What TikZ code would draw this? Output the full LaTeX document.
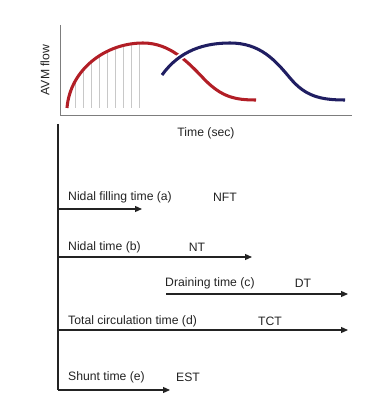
\documentclass[tikz,border=0pt]{standalone}
\usepackage{fontspec}
\setmainfont{Liberation Sans}
\usetikzlibrary{
  arrows.meta,
  positioning,
}
\definecolor{flowred}{RGB}{178,30,38}
\definecolor{flowblue}{RGB}{32,30,98}
\definecolor{axisgray}{RGB}{125,125,125}
\definecolor{fillgray}{RGB}{200,200,200}
\definecolor{textcol}{RGB}{35,35,35}
\tikzset{
  axisline/.style={line width=0.7pt, axisgray},
  redcurve/.style={line width=2.6pt, flowred},
  bluecurve/.style={line width=2.6pt, flowblue},
  fillline/.style={line width=0.5pt, fillgray},
  timearrow/.style={-{Triangle[length=0.21cm, width=0.18cm]}, line width=1pt, textcol},
  baseline/.style={line width=1pt, textcol},
  timelabel/.style={anchor=west, inner sep=0pt, text=textcol, font=\fontsize{10.4}{12}\selectfont},
  abbrlabel/.style={inner sep=0pt, text=textcol, font=\fontsize{10.4}{12}\selectfont},
}

\begin{document}
\begin{tikzpicture}[x=0.03cm, y=-0.03cm]

  \useasboundingbox (0,0) rectangle (367,403);

  % ── Flow plot axes ──
  \coordinate (ytop) at (60,25);
  \coordinate (orig) at (60,115);
  \coordinate (xend) at (352,115);
  \draw[axisline] (ytop) -- (orig) -- (xend);
  \node[abbrlabel, rotate=90] (ylab) at (45,70) {AVM flow};
  \node[abbrlabel] (xlab) at (206,133) {Time (sec)};

  % ── Filling lines under the red curve ──
  \begin{scope}
    \clip (67,108) .. controls (70,70) and (105,43) .. (143,43) -- (143,108) -- cycle;
    \foreach \xx in {75,83,...,139}
      \draw[fillline] (\xx,108) -- (\xx,30);
  \end{scope}

  % ── Curves ──
  \draw[redcurve] (67,108) .. controls (70,70) and (105,43) .. (143,43)
    .. controls (170,43) and (188,62) .. (205,80)
    .. controls (222,97) and (235,100) .. (256,100);
  \draw[line width=5.5pt, white] (162,75) .. controls (180,50) and (205,43) .. (230,43);
  \draw[bluecurve] (162,75) .. controls (180,50) and (205,43) .. (230,43)
    .. controls (260,43) and (275,60) .. (290,78)
    .. controls (305,96) and (320,100) .. (345,100);

  % ── Time arrows ──
  \coordinate (top) at (58,124);
  \coordinate (bot) at (58,390);
  \draw[baseline] (top) -- (bot);

  \coordinate (nft0) at (58,209);  \coordinate (nft1) at (142,209);
  \coordinate (nt0) at (58,257);   \coordinate (nt1) at (252,257);
  \coordinate (dt0) at (166,294);  \coordinate (dt1) at (348,294);
  \coordinate (tct0) at (58,330);  \coordinate (tct1) at (348,330);
  \coordinate (est0) at (58,390);  \coordinate (est1) at (170,390);

  \draw[timearrow] (nft0) -- (nft1);
  \draw[timearrow] (nt0) -- (nt1);
  \draw[timearrow] (dt0) -- (dt1);
  \draw[timearrow] (tct0) -- (tct1);
  \draw[timearrow] (est0) -- (est1);

  % ── Labels ──
  \node[timelabel] (nftlab) at (68,197) {Nidal filling time (a)};
  \node[abbrlabel] (nft) at (225,197) {NFT};
  \node[timelabel] (ntlab) at (68,247) {Nidal time (b)};
  \node[abbrlabel] (nt) at (197,247) {NT};
  \node[timelabel] (dtlab) at (165,283) {Draining time (c)};
  \node[abbrlabel] (dt) at (303,283) {DT};
  \node[timelabel] (tctlab) at (68,321) {Total circulation time (d)};
  \node[abbrlabel] (tct) at (270,321) {TCT};
  \node[timelabel] (estlab) at (68,377) {Shunt time (e)};
  \node[abbrlabel] (est) at (188,377) {EST};

\end{tikzpicture}
\end{document}
